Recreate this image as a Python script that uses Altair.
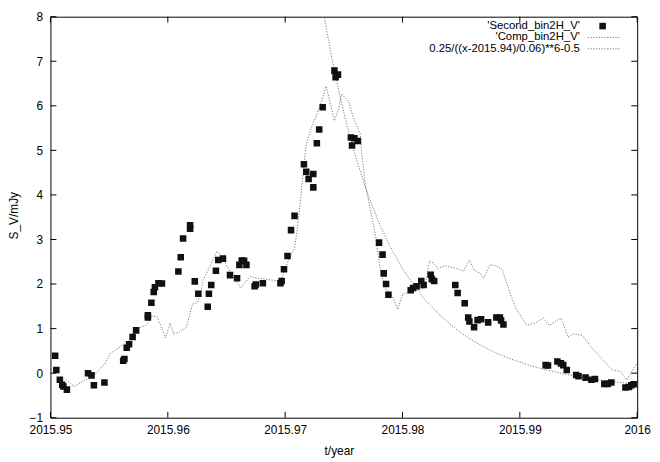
import altair as alt
import pandas as pd

# ---- data ----
pt_x = [2015.9504, 2015.9505, 2015.9508, 2015.9510, 2015.9511, 2015.9514,
        2015.9532, 2015.9535, 2015.9537, 2015.9546,
        2015.9562, 2015.9563, 2015.9565, 2015.9567, 2015.9570, 2015.9573,
        2015.9583, 2015.9583, 2015.9586, 2015.9588, 2015.9589, 2015.9592, 2015.9595,
        2015.9609, 2015.9611, 2015.9613, 2015.9619, 2015.9619,
        2015.9623, 2015.9626, 2015.9634, 2015.9635, 2015.9637, 2015.9641, 2015.9643,
        2015.9647, 2015.9653, 2015.9659, 2015.9661, 2015.9663, 2015.9665, 2015.9667,
        2015.9674, 2015.9675, 2015.9681, 2015.9696, 2015.9697, 2015.9699, 2015.9702,
        2015.9705, 2015.9708, 2015.9716, 2015.9718, 2015.9720, 2015.9724, 2015.9724,
        2015.9727, 2015.9729, 2015.9732, 2015.9742, 2015.9745, 2015.9743,
        2015.9756, 2015.9759, 2015.9762, 2015.9757,
        2015.9780, 2015.9783, 2015.9784, 2015.9786, 2015.9788,
        2015.9807, 2015.9809, 2015.9812, 2015.9816, 2015.9818, 2015.9824, 2015.9825, 2015.9827,
        2015.9845, 2015.9847, 2015.9853, 2015.9856, 2015.9857, 2015.9861, 2015.9864,
        2015.9867, 2015.9873, 2015.9880, 2015.9883, 2015.9884, 2015.9886,
        2015.9922, 2015.9924, 2015.9932, 2015.9935, 2015.9937, 2015.9940,
        2015.9948, 2015.9950, 2015.9956, 2015.9961, 2015.9964,
        2015.9972, 2015.9975, 2015.9978, 2015.9990, 2015.9993, 2015.9995, 2015.9997]
pt_y = [0.39, 0.07, -0.15, -0.26, -0.30, -0.37,
        0.00, -0.05, -0.27, -0.21,
        0.28, 0.32, 0.57, 0.65, 0.81, 0.96,
        1.25, 1.30, 1.58, 1.82, 1.93, 2.02, 2.01,
        2.28, 2.60, 3.02, 3.32, 3.24,
        2.06, 1.78, 1.49, 1.78, 1.98, 2.30, 2.54,
        2.57, 2.20, 2.13, 2.43, 2.53, 2.52, 2.43,
        1.95, 1.99, 2.02, 2.02, 2.07, 2.33, 2.63,
        3.21, 3.53, 4.69, 4.52, 4.36, 4.47, 4.17,
        5.16, 5.47, 5.97, 6.79, 6.70, 6.64,
        5.29, 5.27, 5.21, 5.11,
        2.93, 2.66, 2.24, 2.00, 1.76,
        1.86, 1.91, 1.95, 2.07, 1.98, 2.21, 2.11, 2.07,
        1.98, 1.80, 1.57, 1.25, 1.16, 1.03, 1.19,
        1.21, 1.14, 1.25, 1.25, 1.18, 1.09,
        0.18, 0.17, 0.26, 0.22, 0.18, 0.07,
        -0.04, -0.07, -0.10, -0.15, -0.13,
        -0.24, -0.24, -0.21, -0.32, -0.31, -0.27, -0.25]

comp_x = [2015.9513, 2015.9516, 2015.9520, 2015.9533, 2015.9539, 2015.9546, 2015.9551,
          2015.9560, 2015.9567, 2015.9572, 2015.9581, 2015.9587, 2015.9591, 2015.9598,
          2015.9602, 2015.9605, 2015.9610, 2015.9616, 2015.9621, 2015.9625, 2015.9628,
          2015.9630, 2015.9633, 2015.9642, 2015.9646, 2015.9654, 2015.9662, 2015.9670,
          2015.9673, 2015.9693, 2015.9697, 2015.9700, 2015.9704, 2015.9708, 2015.9710,
          2015.9712, 2015.9715, 2015.9718, 2015.9722, 2015.9726, 2015.9731, 2015.9735,
          2015.9742, 2015.9746, 2015.9748, 2015.9754, 2015.9758, 2015.9764, 2015.9765,
          2015.9768, 2015.9772, 2015.9777, 2015.9781, 2015.9785, 2015.9791, 2015.9796,
          2015.9800, 2015.9809, 2015.9819, 2015.9823, 2015.9827, 2015.9830, 2015.9836,
          2015.9846, 2015.9852, 2015.9857, 2015.9861, 2015.9866, 2015.9869, 2015.9875,
          2015.9881, 2015.9885, 2015.9892, 2015.9897, 2015.9906, 2015.9914, 2015.9920,
          2015.9925, 2015.9935, 2015.9941, 2015.9946, 2015.9953, 2015.9962, 2015.9972,
          2015.9979, 2015.9986, 2015.9991, 2016.0000]
comp_y = [-0.14, -0.20, -0.30, -0.10, 0.00, 0.20, 0.44,
          0.60, 0.73, 0.99, 1.07, 1.29, 1.26, 0.79,
          1.12, 0.88, 0.92, 1.04, 1.55, 1.58, 1.80,
          2.09, 2.24, 2.74, 2.61, 2.24, 1.91, 2.17,
          2.15, 2.07, 2.13, 2.35, 2.61, 2.80, 3.16,
          3.60, 4.41, 5.15, 5.48, 5.74, 6.10, 6.44,
          5.66, 5.96, 6.27, 6.10, 5.74, 5.37, 5.00,
          4.27, 3.75, 3.09, 2.35, 1.91, 1.73, 1.43,
          1.77, 1.84, 1.91, 2.52, 2.46, 2.35, 2.41,
          2.35, 2.29, 2.54, 2.32, 2.24, 2.13, 2.44,
          2.39, 2.32, 1.77, 1.43, 1.07, 1.14, 1.24,
          1.07, 1.24, 0.81, 0.88, 0.85, 0.55, 0.26,
          0.07, 0.04, -0.15, 0.23]

fit_x = [2015.9730, 2015.9735, 2015.9740, 2015.9745, 2015.9750, 2015.9755, 2015.9760,
         2015.9770, 2015.9780, 2015.9790, 2015.9800, 2015.9810, 2015.9820, 2015.9830,
         2015.9840, 2015.9850, 2015.9860, 2015.9870, 2015.9880, 2015.9890, 2015.9900,
         2015.9910, 2015.9920, 2015.9930, 2015.9940, 2015.9950, 2015.9960, 2015.9970,
         2015.9980, 2015.9990, 2016.0000]
fit_y = [8.53, 7.75, 7.05, 6.42, 5.85, 5.33, 4.86,
         4.05, 3.37, 2.81, 2.35, 1.96, 1.62, 1.35,
         1.11, 0.90, 0.73, 0.58, 0.45, 0.34, 0.25,
         0.16, 0.09, 0.03, -0.03, -0.08, -0.12, -0.16,
         -0.19, -0.22, -0.25]

x_ticks = [2015.95, 2015.96, 2015.97, 2015.98, 2015.99, 2016.0]
y_ticks = [-1, 0, 1, 2, 3, 4, 5, 6, 7, 8]
legend_labels = ["'Second_bin2H_V'", "'Comp_bin2H_V'", "0.25/((x-2015.94)/0.06)**6-0.5"]

# ---- layout ----
W, H = 594, 406
FONT = "Liberation Sans"
LINE_COLOR = "#777777"
DASH = [1.2, 1.6]

xs = alt.Scale(domain=[2015.95, 2016.0], zero=False, nice=False)
ys = alt.Scale(domain=[-1, 8], zero=False, nice=False)

pts = pd.DataFrame({"x": pt_x, "y": pt_y})
comp = pd.DataFrame({"x": comp_x, "y": comp_y})
fit = pd.DataFrame({"x": fit_x, "y": fit_y})
xt = pd.DataFrame({"x": x_ticks})
yt = pd.DataFrame({"y": y_ticks})

x_axis = alt.Axis(values=x_ticks,
                  labelExpr="replace(format(datum.value, '.2f'), '.00', '')",
                  domain=False, ticks=False, tickSize=0, grid=False,
                  labelPadding=7, labelFontSize=12, labelFont=FONT, labelColor="black",
                  labelFlush=False, labelOverlap=False,
                  title="t/year", titleFont=FONT, titleFontSize=12, titleFontWeight="normal",
                  titleColor="black", titleX=292, titleY=33, titleBaseline="middle",
                  titleAlign="center")
y_axis = alt.Axis(values=y_ticks, format="d",
                  domain=False, ticks=False, tickSize=0, grid=False,
                  labelPadding=8, labelFontSize=12, labelFont=FONT, labelColor="black",
                  labelFlush=False, labelOverlap=False,
                  title="S_V/mJy", titleFont=FONT, titleFontSize=12, titleFontWeight="normal",
                  titleColor="black", titleX=-37, titleY=201, titleAngle=270,
                  titleBaseline="middle", titleAlign="center")

X = alt.X("x:Q", scale=xs, axis=x_axis, title="t/year")
Y = alt.Y("y:Q", scale=ys, axis=y_axis, title="S_V/mJy")

comp_line = alt.Chart(comp).mark_line(
    color=LINE_COLOR, strokeWidth=1, strokeDash=DASH, clip=True
).encode(x=X, y=Y)

fit_line = alt.Chart(fit).mark_line(
    color=LINE_COLOR, strokeWidth=1, strokeDash=DASH, clip=True
).encode(x=X, y=Y)

points = alt.Chart(pts).mark_point(
    shape="square", filled=True, color="#111111", size=44, opacity=1, clip=True
).encode(x=X, y=Y)

tick_style = dict(color="black", strokeWidth=1)
tb = alt.Chart(xt).mark_rule(**tick_style).encode(
    x=X, y=alt.value(H), y2=alt.value(H - 6))
tt = alt.Chart(xt).mark_rule(**tick_style).encode(
    x=X, y=alt.value(0), y2=alt.value(6))
tl = alt.Chart(yt).mark_rule(**tick_style).encode(
    y=Y, x=alt.value(0), x2=alt.value(6))
tr = alt.Chart(yt).mark_rule(**tick_style).encode(
    y=Y, x=alt.value(W - 6), x2=alt.value(W))

# ---- legend (gnuplot style: label left, sample right) ----
LX = 536
rows = [9.5, 21.0, 32.5]
leg_layers = []
for lab, ry in zip(legend_labels, rows):
    leg_layers.append(
        alt.Chart(pd.DataFrame({"t": [lab]})).mark_text(
            align="right", baseline="middle", font=FONT, fontSize=11.5, color="black"
        ).encode(text="t:N", x=alt.value(LX), y=alt.value(ry))
    )
leg_sq = alt.Chart(pd.DataFrame({"t": [legend_labels[0]]})).mark_point(
    shape="square", filled=True, color="#111111", size=44, opacity=1
).encode(x=alt.value(559), y=alt.value(rows[0]))
leg_l1 = alt.Chart(pd.DataFrame({"t": [legend_labels[1]]})).mark_rule(
    color=LINE_COLOR, strokeWidth=1, strokeDash=DASH
).encode(x=alt.value(544), x2=alt.value(576), y=alt.value(rows[1]))
leg_l2 = alt.Chart(pd.DataFrame({"t": [legend_labels[2]]})).mark_rule(
    color=LINE_COLOR, strokeWidth=1, strokeDash=DASH
).encode(x=alt.value(544), x2=alt.value(576), y=alt.value(rows[2]))

chart = alt.layer(
    comp_line, fit_line, points, tb, tt, tl, tr, *leg_layers, leg_sq, leg_l1, leg_l2
).properties(
    width=W, height=H,
    padding={"left": 43, "top": 6, "right": 15, "bottom": 40},
    autosize=alt.AutoSizeParams(type="none"),
    background="white",
).configure(
    font=FONT
).configure_view(
    stroke="black", strokeWidth=1
)

chart.save("out.html", embed_options={"renderer": "svg", "actions": False})
